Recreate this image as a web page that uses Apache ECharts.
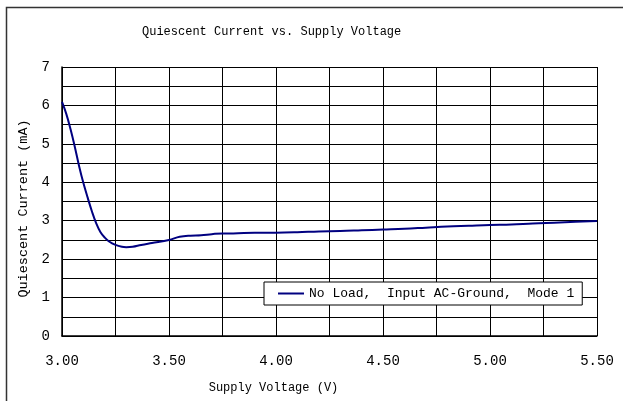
<!DOCTYPE html>
<html>
<head>
<meta charset="utf-8">
<script src="https://cdn.jsdelivr.net/npm/echarts@6/dist/echarts.min.js"></script>
<style>
  html, body { margin: 0; padding: 0; background: #fff; }
  #chart { width: 623px; height: 401px; }
</style>
</head>
<body>
<div id="chart"></div>
<script>
  // supply voltage (V) and quiescent current (mA)
  var voltage = [3.00, 3.02, 3.04, 3.06, 3.08, 3.10, 3.12, 3.14, 3.16, 3.18,
    3.20, 3.22, 3.25, 3.28, 3.30, 3.33, 3.37, 3.42, 3.50, 3.55,
    3.60, 3.65, 3.70, 3.75, 3.80, 3.90, 4.00, 4.10, 4.20, 4.30,
    4.40, 4.50, 4.60, 4.70, 4.80, 4.90, 5.00, 5.10, 5.20, 5.30,
    5.40, 5.50]
  var current = [6.09, 5.78, 5.38, 4.92, 4.42, 3.98, 3.60, 3.24, 2.93, 2.70,
    2.56, 2.46, 2.37, 2.32, 2.31, 2.32, 2.37, 2.42, 2.50, 2.58,
    2.61, 2.62, 2.65, 2.67, 2.67, 2.69, 2.69, 2.70, 2.72, 2.73,
    2.75, 2.77, 2.79, 2.82, 2.85, 2.87, 2.89, 2.90, 2.93, 2.95,
    2.97, 2.99]
  var seriesName = 'No Load,  Input AC-Ground,  Mode 1'
  var font = "'Liberation Mono', monospace"

  var chart = echarts.init(document.getElementById('chart'))
  chart.setOption({
    animation: false,
    backgroundColor: '#fff',
    title: {
      text: 'Quiescent Current vs. Supply Voltage',
      left: 137,
      top: 21,
      textStyle: { fontFamily: font, fontSize: 12, fontWeight: 'normal', color: '#000' }
    },
    graphic: [{
      type: 'rect',
      left: 4, top: 5,
      shape: { width: 700, height: 500 },
      style: { fill: 'none', stroke: '#333', lineWidth: 1.5 },
      silent: true
    }],
    grid: { left: 62, right: 26, top: 67, bottom: 65 },
    legend: {
      data: [seriesName],
      left: 264, top: 282,
      icon: 'rect',
      itemWidth: 26, itemHeight: 2,
      itemGap: 2,
      padding: [5, 8, 5, 14],
      borderColor: '#000', borderWidth: 1,
      backgroundColor: '#fff',
      textStyle: { fontFamily: font, fontSize: 13, color: '#000' }
    },
    xAxis: {
      type: 'value',
      min: 3, max: 5.5, interval: 0.25,
      name: 'Supply Voltage (V)',
      nameLocation: 'middle',
      nameGap: 46,
      nameTextStyle: { fontFamily: font, fontSize: 12, color: '#000', padding: [0, 112, 0, 0] },
      axisLine: { lineStyle: { color: '#000', width: 1.5 } },
      axisTick: { show: false },
      axisLabel: {
        margin: 18,
        fontFamily: font, fontSize: 14, color: '#000',
        formatter: function (v) {
          return Math.round(v * 100) % 50 === 0 ? v.toFixed(2) : ''
        }
      },
      splitLine: { show: true, lineStyle: { color: '#000', width: 1 } }
    },
    yAxis: {
      type: 'value',
      min: 0, max: 7, interval: 0.5,
      name: 'Quiescent Current (mA)',
      nameLocation: 'middle',
      nameGap: 27,
      nameTextStyle: { fontFamily: font, fontSize: 13.5, color: '#000', padding: [0, 14, 0, 0] },
      axisLine: { show: true, lineStyle: { color: '#000', width: 1.5 } },
      axisTick: { show: false },
      axisLabel: {
        margin: 12,
        fontFamily: font, fontSize: 14, color: '#000',
        formatter: function (v) {
          return v % 1 === 0 ? String(v) : ''
        }
      },
      splitLine: { show: true, lineStyle: { color: '#000', width: 1 } }
    },
    series: [{
      name: seriesName,
      type: 'line',
      data: voltage.map(function (v, i) { return [v, current[i]] }),
      smooth: 0.4,
      showSymbol: false,
      lineStyle: { color: '#000080', width: 2 },
      itemStyle: { color: '#000080' }
    }]
  })
</script>
</body>
</html>
